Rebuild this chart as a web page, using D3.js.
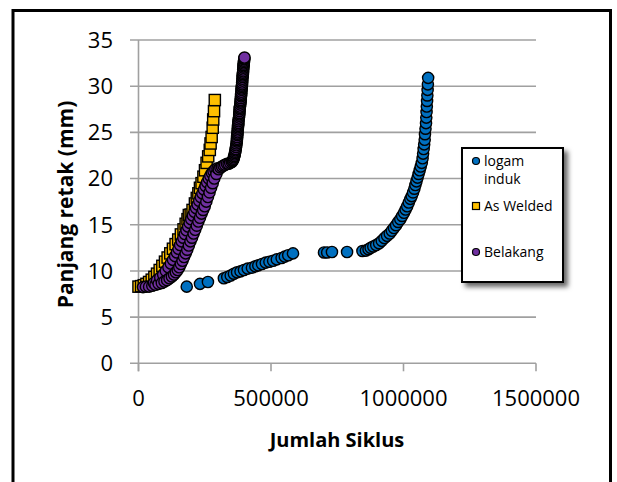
<!DOCTYPE html>
<html>
<head>
<meta charset="utf-8">
<script src="https://cdn.jsdelivr.net/npm/d3@7"></script>
<style>
  body { margin: 0; background: #fff; }
  svg { display: block; font-family: "Open Sans", sans-serif; }
</style>
</head>
<body>
<svg width="617" height="482"></svg>
<script>
// logam induk (base metal)
let induxX = [182000, 232000, 262000,
  322000, 335000, 348000, 360000, 372000, 385000, 398000, 412000, 428000, 441000, 452000, 466000, 480000, 494000, 508000, 522000, 540000, 552000, 565000, 583000,
  700000, 712000, 730000, 787000,
  845000, 858000, 868000, 876000, 886000, 897000, 908000, 918000, 928000, 938000, 948000, 956000, 964000, 972000, 980000, 988000, 995000, 1002000, 1008000, 1014000, 1020000, 1026000, 1031000, 1036000, 1041000, 1045000, 1049000, 1053000, 1057000, 1061000, 1065000, 1069000, 1072000, 1074000, 1076000, 1078000, 1080000, 1081000, 1083000, 1085000, 1086000, 1087000, 1088000, 1089000, 1090000, 1091000, 1092000, 1093000];
let indukY = [8.3, 8.6, 8.8,
  9.2, 9.35, 9.5, 9.7, 9.85, 9.95, 10.1, 10.25, 10.35, 10.5, 10.6, 10.75, 10.9, 11.0, 11.1, 11.25, 11.4, 11.55, 11.7, 11.9,
  12.0, 12.0, 12.05, 12.05,
  12.15, 12.2, 12.35, 12.5, 12.65, 12.8, 13.0, 13.25, 13.55, 13.8, 14.05, 14.35, 14.65, 14.95, 15.3, 15.6, 15.95, 16.3, 16.65, 17.0, 17.4, 17.8, 18.1, 18.5, 18.9, 19.3, 19.7, 20.1, 20.5, 20.9, 21.3, 21.7, 22.2, 22.7, 23.2, 23.7, 24.2, 24.8, 25.4, 26.0, 26.6, 27.2, 27.8, 28.4, 29.0, 29.6, 30.2, 30.9];

// As Welded
let weldX = [0, 10000, 20000, 30000, 40000, 50000, 60000, 70000, 80000, 90000, 100000, 110000, 120000, 130000, 140000, 150000, 160000, 170000, 178000, 185000, 190000, 197000, 204000, 213000, 220000, 226000, 232000, 238000, 245000, 251000, 257000, 263000, 269000, 272000, 276000, 280000, 282000, 285000, 288000];
let weldY = [8.3, 8.35, 8.45, 8.6, 8.8, 9.05, 9.35, 9.7, 10.1, 10.55, 11.0, 11.45, 11.9, 12.4, 12.9, 13.4, 13.95, 14.5, 15.1, 15.6, 16.05, 16.1, 16.6, 17.3, 17.9, 18.4, 19.0, 19.5, 20.2, 20.9, 21.7, 22.4, 23.1, 23.8, 24.5, 25.5, 26.4, 27.3, 28.5];

// Belakang
let belakangX = [17000, 28000, 40000, 52000, 58000, 64000, 70000, 76000, 82000, 88000, 93000, 98000, 103000, 108000, 113000, 117000, 122000, 126000, 130000, 134000, 138000, 141000, 145000, 148000, 151000, 154000, 157000, 160000, 163000, 166000, 169000, 172000, 175000, 178000, 181000, 184000, 187000, 190000, 193000, 196000, 199000, 202000, 205000, 208000, 211000, 214000, 217000, 220000, 223000, 226000, 229000, 232000, 235000, 238000, 241000, 244000, 247000, 250000, 253000, 256000, 259000, 262000, 265000, 268000, 271000, 274000, 277000, 280000, 283000, 286000, 290000, 294000, 298000, 303000, 309000, 315000, 321000, 327000, 334000, 340000, 346000, 352000, 355000, 357000, 359000, 360000, 362000, 363000, 364000, 365000, 366000, 367000, 368000, 369000, 370000, 371000, 371000, 372000, 372000, 373000, 373000, 374000, 374000, 375000, 375000, 376000, 376000, 377000, 377000, 378000, 379000, 380000, 380000, 381000, 381000, 382000, 382000, 383000, 384000, 385000, 385000, 386000, 386000, 387000, 387000, 388000, 388000, 389000, 389000, 390000, 390000, 391000, 391000, 392000, 392000, 393000, 393000, 394000, 394000, 395000, 395000, 396000, 396000, 397000, 397000, 398000, 398000, 399000, 399000, 400000];
let belakangY = [8.25, 8.3, 8.3, 8.4, 8.7, 8.5, 9.0, 8.6, 9.3, 8.7, 9.6, 8.85, 10.0, 9.0, 10.4, 9.2, 10.8, 9.4, 11.2, 9.6, 11.6, 9.85, 12.0, 10.1, 12.4, 10.4, 12.8, 10.75, 13.2, 11.1, 13.6, 11.5, 14.0, 11.9, 14.4, 12.3, 14.8, 12.75, 15.2, 13.2, 15.6, 13.6, 16.0, 14.05, 16.4, 14.45, 16.8, 14.9, 17.2, 15.35, 17.6, 15.75, 18.0, 16.2, 18.4, 16.6, 18.8, 17.0, 19.2, 17.5, 19.6, 18.0, 20.0, 18.5, 20.3, 19.0, 20.6, 19.5, 20.8, 20.0, 21.0, 20.5, 21.1, 21.0, 21.2, 21.3, 21.4, 21.5, 21.6, 21.6, 21.7, 21.8, 21.9, 22.0, 22.15, 22.3, 22.45, 22.6, 22.75, 22.9, 23.05, 23.2, 23.4, 23.6, 23.8, 24.0, 24.15, 24.3, 24.5, 24.7, 24.85, 25.0, 25.2, 25.4, 25.55, 25.7, 25.85, 26.0, 26.2, 26.4, 26.6, 26.8, 26.95, 27.1, 27.3, 27.5, 27.65, 27.8, 28.0, 28.2, 28.35, 28.5, 28.7, 28.9, 29.05, 29.2, 29.4, 29.6, 29.75, 29.9, 30.05, 30.2, 30.4, 30.6, 30.8, 31.0, 31.15, 31.3, 31.45, 31.6, 31.8, 32.0, 32.15, 32.3, 32.45, 32.6, 32.75, 32.9, 33.0, 33.1];

let xTicks = [0, 500000, 1000000, 1500000];
let yTicks = [0, 5, 10, 15, 20, 25, 30, 35];
let seriesNames = ['logam induk', 'As Welded', 'Belakang'];
let seriesColors = ['#0070c0', '#ffc000', '#7030a0'];

let svg = d3.select('svg');
let gridColor = '#a0a0a0';

let x = d3.scaleLinear().domain([0, 1500000]).range([138.5, 536]);
let y = d3.scaleLinear().domain([0, 35]).range([363.3, 40]);

// outer frame
svg.append('rect')
  .attr('x', 13).attr('y', 10.5)
  .attr('width', 597.5).attr('height', 520)
  .attr('fill', 'none').attr('stroke', '#000').attr('stroke-width', 3);

// gridlines + y ticks
svg.selectAll('.grid')
  .data(yTicks)
  .enter()
  .append('line')
  .attr('x1', 130).attr('x2', 536)
  .attr('y1', d => y(d)).attr('y2', d => y(d))
  .attr('stroke', gridColor).attr('stroke-width', 1.6);

// y axis line
svg.append('line')
  .attr('x1', x(0)).attr('x2', x(0))
  .attr('y1', y(35)).attr('y2', y(0) + 8)
  .attr('stroke', gridColor).attr('stroke-width', 1.6);

// x ticks
svg.selectAll('.xtick')
  .data(xTicks)
  .enter()
  .append('line')
  .attr('x1', d => x(d)).attr('x2', d => x(d))
  .attr('y1', y(0)).attr('y2', y(0) + 8)
  .attr('stroke', gridColor).attr('stroke-width', 1.6);

svg.selectAll('.ylab')
  .data(yTicks)
  .enter()
  .append('text')
  .attr('x', 113)
  .attr('y', d => y(d))
  .attr('dy', '0.36em')
  .attr('text-anchor', 'end')
  .attr('font-size', 22)
  .text(d => d);

svg.selectAll('.xlab')
  .data(xTicks)
  .enter()
  .append('text')
  .attr('x', d => x(d))
  .attr('y', 406)
  .attr('text-anchor', 'middle')
  .attr('font-size', 22)
  .text(d => d);

// axis titles
svg.append('text')
  .attr('x', 337).attr('y', 447)
  .attr('text-anchor', 'middle')
  .attr('font-size', 20).attr('font-weight', 'bold')
  .text('Jumlah Siklus');

svg.append('text')
  .attr('transform', 'translate(73,204.5) rotate(-90)')
  .attr('text-anchor', 'middle')
  .attr('font-size', 21).attr('font-weight', 'bold')
  .text('Panjang retak (mm)');

// points
let plot = svg.append('g');

plot.selectAll('.induk')
  .data(d3.zip(induxX, indukY))
  .enter()
  .append('circle')
  .attr('cx', d => x(d[0]))
  .attr('cy', d => y(d[1]))
  .attr('r', 5.6)
  .attr('fill', seriesColors[0])
  .attr('stroke', '#000').attr('stroke-width', 1.4);

plot.selectAll('.weld')
  .data(d3.zip(weldX, weldY))
  .enter()
  .append('rect')
  .attr('x', d => x(d[0]) - 5.6)
  .attr('y', d => y(d[1]) - 5.6)
  .attr('width', 11.2).attr('height', 11.2)
  .attr('fill', seriesColors[1])
  .attr('stroke', '#000').attr('stroke-width', 1.4);

plot.selectAll('.belakang')
  .data(d3.zip(belakangX, belakangY))
  .enter()
  .append('circle')
  .attr('cx', d => x(d[0]))
  .attr('cy', d => y(d[1]))
  .attr('r', 5.6)
  .attr('fill', seriesColors[2])
  .attr('stroke', '#000').attr('stroke-width', 1.4);

// legend
let defs = svg.append('defs');
let shadow = defs.append('filter').attr('id', 'shadow')
  .attr('x', '-10%').attr('y', '-10%').attr('width', '130%').attr('height', '130%');
shadow.append('feDropShadow')
  .attr('dx', 4).attr('dy', 4).attr('stdDeviation', 2.5)
  .attr('flood-color', '#000').attr('flood-opacity', 0.6);

let legend = svg.append('g');
legend.append('rect')
  .attr('x', 462).attr('y', 148)
  .attr('width', 101).attr('height', 134)
  .attr('fill', '#fff').attr('stroke', '#000').attr('stroke-width', 2)
  .attr('filter', 'url(#shadow)');

let legendY = [161, 206, 252];
legend.append('circle').attr('cx', 476).attr('cy', legendY[0]).attr('r', 3.5)
  .attr('fill', seriesColors[0]).attr('stroke', '#000').attr('stroke-width', 1.2);
legend.append('rect').attr('x', 472.5).attr('y', legendY[1] - 3.5).attr('width', 7).attr('height', 7)
  .attr('fill', seriesColors[1]).attr('stroke', '#000').attr('stroke-width', 1.2);
legend.append('circle').attr('cx', 476).attr('cy', legendY[2]).attr('r', 3.5)
  .attr('fill', seriesColors[2]).attr('stroke', '#000').attr('stroke-width', 1.2);

legend.append('text').attr('x', 484).attr('y', 166).attr('font-size', 14).text('logam');
legend.append('text').attr('x', 484).attr('y', 184).attr('font-size', 14).text('induk');
legend.append('text').attr('x', 484).attr('y', 211).attr('font-size', 14).text(seriesNames[1]);
legend.append('text').attr('x', 484).attr('y', 257).attr('font-size', 14).text(seriesNames[2]);
</script>
</body>
</html>
